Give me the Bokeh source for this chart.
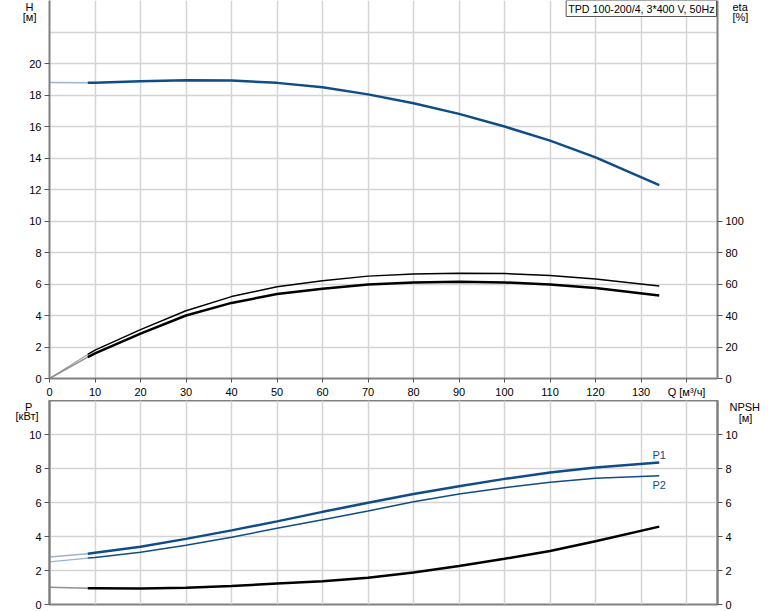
from bokeh.plotting import figure
from bokeh.models import Range1d, LinearAxis, FixedTicker, Label
from bokeh.layouts import column
from bokeh.embed import file_html
from bokeh.resources import INLINE

# ---- data ----
q_lead = [0, 8.4]
q = [8.4, 10, 20, 30, 40, 50, 60, 70, 80, 90, 100, 110, 120, 134]

h_lead = [18.8, 18.77]
h = [18.77, 18.77, 18.87, 18.94, 18.92, 18.77, 18.49, 18.04, 17.48, 16.8, 16.0, 15.1, 14.04, 12.28]

eta1_lead = [0, 15.3]
eta1 = [15.3, 18, 31, 43, 52, 58.3, 62, 65, 66.4, 66.9, 66.6, 65.4, 63.2, 58.7]
eta2_lead = [0, 13.6]
eta2 = [13.6, 16, 28.5, 40, 48, 53.6, 57, 59.7, 61, 61.4, 61, 59.7, 57.4, 52.7]

p1_lead = [2.79, 2.99]
p1 = [2.99, 3.05, 3.4, 3.86, 4.36, 4.89, 5.45, 5.98, 6.5, 6.95, 7.39, 7.76, 8.06, 8.36]
p2_lead = [2.51, 2.73]
p2 = [2.73, 2.77, 3.07, 3.49, 3.96, 4.48, 4.99, 5.5, 6.04, 6.5, 6.87, 7.19, 7.43, 7.58]
npsh_lead = [1.01, 0.95]
npsh = [0.95, 0.95, 0.94, 0.98, 1.09, 1.23, 1.37, 1.58, 1.88, 2.26, 2.69, 3.15, 3.72, 4.58]

x_ticks = list(range(0, 150, 10))
h_ticks = list(range(0, 22, 2))
h_grid = list(range(0, 24, 2))
eta_ticks = list(range(0, 120, 20))
p_ticks = list(range(0, 12, 2))
p_grid = list(range(0, 14, 2))
title_text = "TPD 100-200/4, 3*400 V, 50Hz"

NB = "\u00a0"
FONT = "Liberation Sans"
BLUE = "#0f4c88"
AXIS = "#808080"
GRID = "#d4d4d4"
XMAX = 146.8


def style_axis(ax, tick_out=5):
    ax.axis_line_color = AXIS
    ax.axis_line_width = 2
    ax.major_tick_out = tick_out
    ax.major_tick_in = 0
    ax.major_tick_line_color = "#555555"
    ax.minor_tick_line_color = None
    ax.major_label_text_font = FONT
    ax.major_label_text_font_size = "11px"
    ax.major_label_text_color = "#000000"
    ax.major_label_standoff = 3


def name_axis(p, side, labels, standoff):
    """Axis that only carries the unit captions (e.g. 'H' / '[м]')."""
    ax = LinearAxis(ticker=FixedTicker(ticks=list(labels.keys())),
                    major_label_overrides=labels)
    ax.axis_line_color = None
    ax.major_tick_line_color = None
    ax.minor_tick_line_color = None
    ax.major_tick_out = 0
    ax.major_tick_in = 0
    ax.major_label_standoff = standoff
    ax.major_label_text_font = FONT
    ax.major_label_text_font_size = "11px"
    ax.major_label_text_color = "#000000"
    p.add_layout(ax, side)


# ---- top figure ----
f1 = figure(width=774, height=400, x_range=Range1d(0, XMAX), y_range=Range1d(0, 24),
            output_backend="svg", toolbar_location=None,
            min_border_left=49, min_border_right=57, min_border_top=0, min_border_bottom=19)
f1.outline_line_color = None
f1.extra_y_ranges = {"eta": Range1d(0, 240)}
eta_axis = LinearAxis(y_range_name="eta", ticker=FixedTicker(ticks=eta_ticks))
f1.add_layout(eta_axis, "right")
f1.xaxis.ticker = FixedTicker(ticks=x_ticks)
f1.xaxis.major_label_overrides = {140: "Q [м³/ч]"}
f1.yaxis[0].ticker = FixedTicker(ticks=h_ticks)
for ax in f1.xaxis:
    style_axis(ax, 4)
for ax in f1.yaxis:
    style_axis(ax)
f1.xgrid.ticker = FixedTicker(ticks=x_ticks)
f1.ygrid.ticker = FixedTicker(ticks=h_grid)
for g in (f1.xgrid[0], f1.ygrid[0]):
    g.grid_line_color = GRID
    g.grid_line_width = 1.5

name_axis(f1, "left", {23.75: "H" + NB, 22.95: "[м]"}, -10)
name_axis(f1, "right", {23.75: "eta", 22.95: "[%]"}, -14)

f1.line(q_lead, h_lead, line_color="#9db3c9", line_width=1.5)
f1.line(q, h, line_color=BLUE, line_width=2.5)
f1.line(q_lead, eta1_lead, line_color="#a0a0a0", line_width=1.2, y_range_name="eta")
f1.line(q, eta1, line_color="#000000", line_width=1.5, y_range_name="eta")
f1.line(q_lead, eta2_lead, line_color="#909090", line_width=1.5, y_range_name="eta")
f1.line(q, eta2, line_color="#000000", line_width=2.5, y_range_name="eta")

f1.add_layout(Label(x=XMAX, y=24, text=title_text, text_align="right", text_baseline="top",
                    text_font=FONT, text_font_size="10.7px", text_color="#000000",
                    x_offset=-1, y_offset=0,
                    background_fill_color="white", border_line_color="#555555",
                    border_line_width=1, padding=2))

# ---- bottom figure ----
f2 = figure(width=774, height=211, x_range=f1.x_range, y_range=Range1d(0, 12),
            output_backend="svg", toolbar_location=None, x_axis_location=None,
            min_border_left=49, min_border_right=57, min_border_top=0, min_border_bottom=7)
f2.outline_line_color = AXIS
f2.outline_line_width = 2
f2.extra_y_ranges = {"npsh": Range1d(0, 12)}
npsh_axis = LinearAxis(y_range_name="npsh", ticker=FixedTicker(ticks=p_ticks))
f2.add_layout(npsh_axis, "right")
f2.yaxis[0].ticker = FixedTicker(ticks=p_ticks)
for ax in f2.yaxis:
    style_axis(ax)
f2.xgrid.ticker = FixedTicker(ticks=x_ticks)
f2.ygrid.ticker = FixedTicker(ticks=p_grid)
for g in (f2.xgrid[0], f2.ygrid[0]):
    g.grid_line_color = GRID
    g.grid_line_width = 1.5

name_axis(f2, "left", {11.88: "P" + NB * 2, 11.06: "[кВт]"}, -12)
name_axis(f2, "right", {11.82: "NPSH", 10.98: NB * 3 + "[м]"}, -11)

f2.line(q_lead, p1_lead, line_color="#9db3c9", line_width=1.5)
f2.line(q, p1, line_color=BLUE, line_width=2.5)
f2.line(q_lead, p2_lead, line_color="#9db3c9", line_width=1.2)
f2.line(q, p2, line_color=BLUE, line_width=1.5)
f2.line(q_lead, npsh_lead, line_color="#909090", line_width=1.5, y_range_name="npsh")
f2.line(q, npsh, line_color="#000000", line_width=2.5, y_range_name="npsh")

f2.add_layout(Label(x=q[-1], y=p1[-1], text="P1", text_align="center", text_baseline="bottom",
                    y_offset=1, text_font=FONT, text_font_size="11px", text_color=BLUE))
f2.add_layout(Label(x=q[-1], y=p2[-1], text="P2", text_align="center", text_baseline="top",
                    y_offset=-3, text_font=FONT, text_font_size="11px", text_color=BLUE))

layout = column(f1, f2, spacing=0)
open("out.html", "w").write(file_html(layout, INLINE))
